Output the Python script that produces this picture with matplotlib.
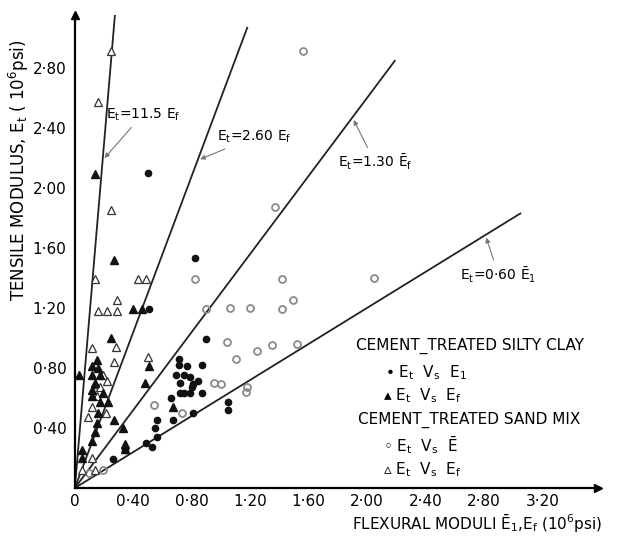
import matplotlib
matplotlib.use("Agg")
import matplotlib.pyplot as plt
import numpy as np

plt.rcParams['font.family'] = ['DejaVu Sans']
plt.rcParams['mathtext.fontset'] = 'dejavusans'

# cement-treated silty clay, E_t vs mean flexural modulus (filled circles)
clay_mean_x = [0.50, 0.82, 0.51, 0.90, 0.87, 0.71, 0.71, 0.77, 0.69, 0.75, 0.79,
               0.84, 0.81, 0.72, 0.80, 0.72, 0.75, 0.79, 0.87, 0.66, 0.81, 0.67,
               0.56, 0.55, 0.56, 0.49, 0.53, 0.34, 0.26, 1.05, 1.05]
clay_mean_y = [2.10, 1.53, 1.19, 0.99, 0.82, 0.86, 0.82, 0.81, 0.75, 0.75, 0.74,
               0.71, 0.69, 0.70, 0.67, 0.63, 0.63, 0.63, 0.63, 0.60, 0.50, 0.45,
               0.45, 0.40, 0.34, 0.30, 0.27, 0.25, 0.19, 0.57, 0.52]

# cement-treated silty clay, E_t vs E_f (filled triangles)
clay_ef_x = [0.14, 0.27, 0.40, 0.46, 0.25, 0.51, 0.03, 0.12, 0.16, 0.12, 0.17,
             0.15, 0.12, 0.12, 0.19, 0.16, 0.23, 0.15, 0.27, 0.14, 0.12, 0.05,
             0.05, 0.33, 0.34, 0.34, 0.48, 0.67, 0.14, 0.17]
clay_ef_y = [2.09, 1.52, 1.19, 1.19, 1.00, 0.81, 0.75, 0.81, 0.80, 0.75, 0.75,
             0.85, 0.65, 0.61, 0.63, 0.50, 0.57, 0.43, 0.45, 0.37, 0.31, 0.25,
             0.20, 0.40, 0.29, 0.26, 0.70, 0.54, 0.70, 0.57]

# cement-treated sand mix, E_t vs mean flexural modulus (open circles)
sand_mean_x = [1.56, 1.37, 0.82, 1.42, 2.05, 0.90, 1.06, 1.20, 1.49, 1.42, 1.04,
               1.25, 1.35, 1.52, 1.10, 0.95, 1.00, 1.18, 1.17, 0.73, 0.54, 0.10,
               0.19]
sand_mean_y = [2.91, 1.87, 1.39, 1.39, 1.40, 1.19, 1.20, 1.20, 1.25, 1.19, 0.97,
               0.91, 0.95, 0.96, 0.86, 0.70, 0.69, 0.67, 0.64, 0.50, 0.55, 0.10,
               0.12]

# cement-treated sand mix, E_t vs E_f (open triangles)
sand_ef_x = [0.25, 0.16, 0.25, 0.14, 0.43, 0.49, 0.16, 0.22, 0.29, 0.29, 0.28,
             0.12, 0.27, 0.50, 0.19, 0.22, 0.14, 0.17, 0.15, 0.09, 0.12, 0.21,
             0.12, 0.05, 0.14]
sand_ef_y = [2.91, 2.57, 1.85, 1.39, 1.39, 1.39, 1.18, 1.18, 1.25, 1.18, 0.94,
             0.93, 0.84, 0.87, 0.75, 0.71, 0.69, 0.67, 0.61, 0.47, 0.54, 0.50,
             0.20, 0.12, 0.12]

# fitted ratios E_t = k * E_f and how far each line is drawn
slopes = [11.5, 2.60, 1.30, 0.60]
line_ends = [0.276, 1.18, 2.19, 3.05]

x_ticks = [0, 0.40, 0.80, 1.20, 1.60, 2.00, 2.40, 2.80, 3.20]
x_tick_labels = ['0', '0·40', '0·80', '1·20', '1·60', '2·00', '2·40', '2·80', '3·20']
y_ticks = [0.40, 0.80, 1.20, 1.60, 2.00, 2.40, 2.80]
y_tick_labels = ['0·40', '0·80', '1·20', '1·60', '2·00', '2·40', '2·80']

fig = plt.figure(figsize=(6.24, 5.4), dpi=100)
ax = fig.add_axes([0.120, 0.0963, 0.838, 0.876])
ax.set_xlim(0, 3.58)
ax.set_ylim(0, 3.153)

for s in ['top', 'right']:
    ax.spines[s].set_visible(False)
for s in ['left', 'bottom']:
    ax.spines[s].set_linewidth(1.6)
# arrow heads on the axes
ax.plot(1, 0, '>k', ms=6, transform=ax.transAxes, clip_on=False)
ax.plot(0, 1, '^k', ms=6, transform=ax.transAxes, clip_on=False)

ax.set_xticks(x_ticks)
ax.set_xticklabels(x_tick_labels, fontsize=11)
ax.set_yticks(y_ticks)
ax.set_yticklabels(y_tick_labels, fontsize=11)
ax.tick_params(axis='x', length=0, pad=4)
ax.tick_params(axis='y', length=0, pad=6)

for k, xe in zip(slopes, line_ends):
    xs = np.array([0, xe])
    ax.plot(xs, k * xs, color='#222222', lw=1.3)

ax.plot(sand_mean_x, sand_mean_y, 'o', ms=5, mfc='none', mec='#8a8a8a', mew=1.3)
ax.plot(sand_ef_x, sand_ef_y, '^', ms=6, mfc='white', mec='#333333', mew=0.9)
ax.plot(clay_mean_x, clay_mean_y, 'o', ms=4.5, color='#111111')
ax.plot(clay_ef_x, clay_ef_y, '^', ms=6, color='#111111')

Et = r'E$_{\mathrm{t}}$'
Ef = r'E$_{\mathrm{f}}$'

# line labels with leader arrows
arrow = dict(arrowstyle='-|>', color='#777777', lw=0.8, mutation_scale=7)
ax.annotate(Et + '=11.5 ' + Ef, xy=(0.19, 11.5 * 0.19), xytext=(0.21, 2.49),
            fontsize=10, va='center', arrowprops=arrow)
ax.annotate(Et + '=2.60 ' + Ef, xy=(0.84, 2.60 * 0.84), xytext=(0.97, 2.34),
            fontsize=10, va='center', arrowprops=arrow)
ax.annotate(Et + r'=1.30 $\bar{\mathrm{E}}_{\mathrm{f}}$', xy=(1.90, 1.30 * 1.90),
            xytext=(1.80, 2.17), fontsize=10, va='center', arrowprops=arrow)
ax.annotate(Et + r'=0·60 $\bar{\mathrm{E}}_{\mathrm{1}}$', xy=(2.81, 0.60 * 2.81),
            xytext=(2.64, 1.42), fontsize=10, va='center', arrowprops=arrow)

# key
kw = dict(fontsize=11, va='center', transform=ax.transAxes)
ax.text(0.755, 0.300, 'CEMENT_TREATED SILTY CLAY', ha='center', **kw)
ax.text(0.593, 0.243, '• ' + Et + '  V$_{\\mathrm{s}}$  E$_{\\mathrm{1}}$', ha='left', **kw)
ax.text(0.590, 0.195, '▴ ' + Et + '  V$_{\\mathrm{s}}$  ' + Ef, ha='left', **kw)
ax.text(0.755, 0.144, 'CEMENT_TREATED SAND MIX', ha='center', **kw)
ax.text(0.590, 0.091, '◦ ' + Et + r'  V$_{\mathrm{s}}$  $\bar{\mathrm{E}}$', ha='left', **kw)
ax.text(0.590, 0.038, '▵ ' + Et + '  V$_{\\mathrm{s}}$  ' + Ef, ha='left', **kw)

fig.text(0.765, 0.030, r'FLEXURAL MODULI $\bar{\mathrm{E}}_{\mathrm{1}}$,' + Ef + ' (10$^6$psi)',
         fontsize=11, ha='center', va='center')
fig.text(0.03, 0.685, 'TENSILE MODULUS, ' + Et + ' ( 10$^6$psi)', fontsize=12,
         rotation=90, ha='center', va='center')

fig.savefig('out.png', dpi=100)
